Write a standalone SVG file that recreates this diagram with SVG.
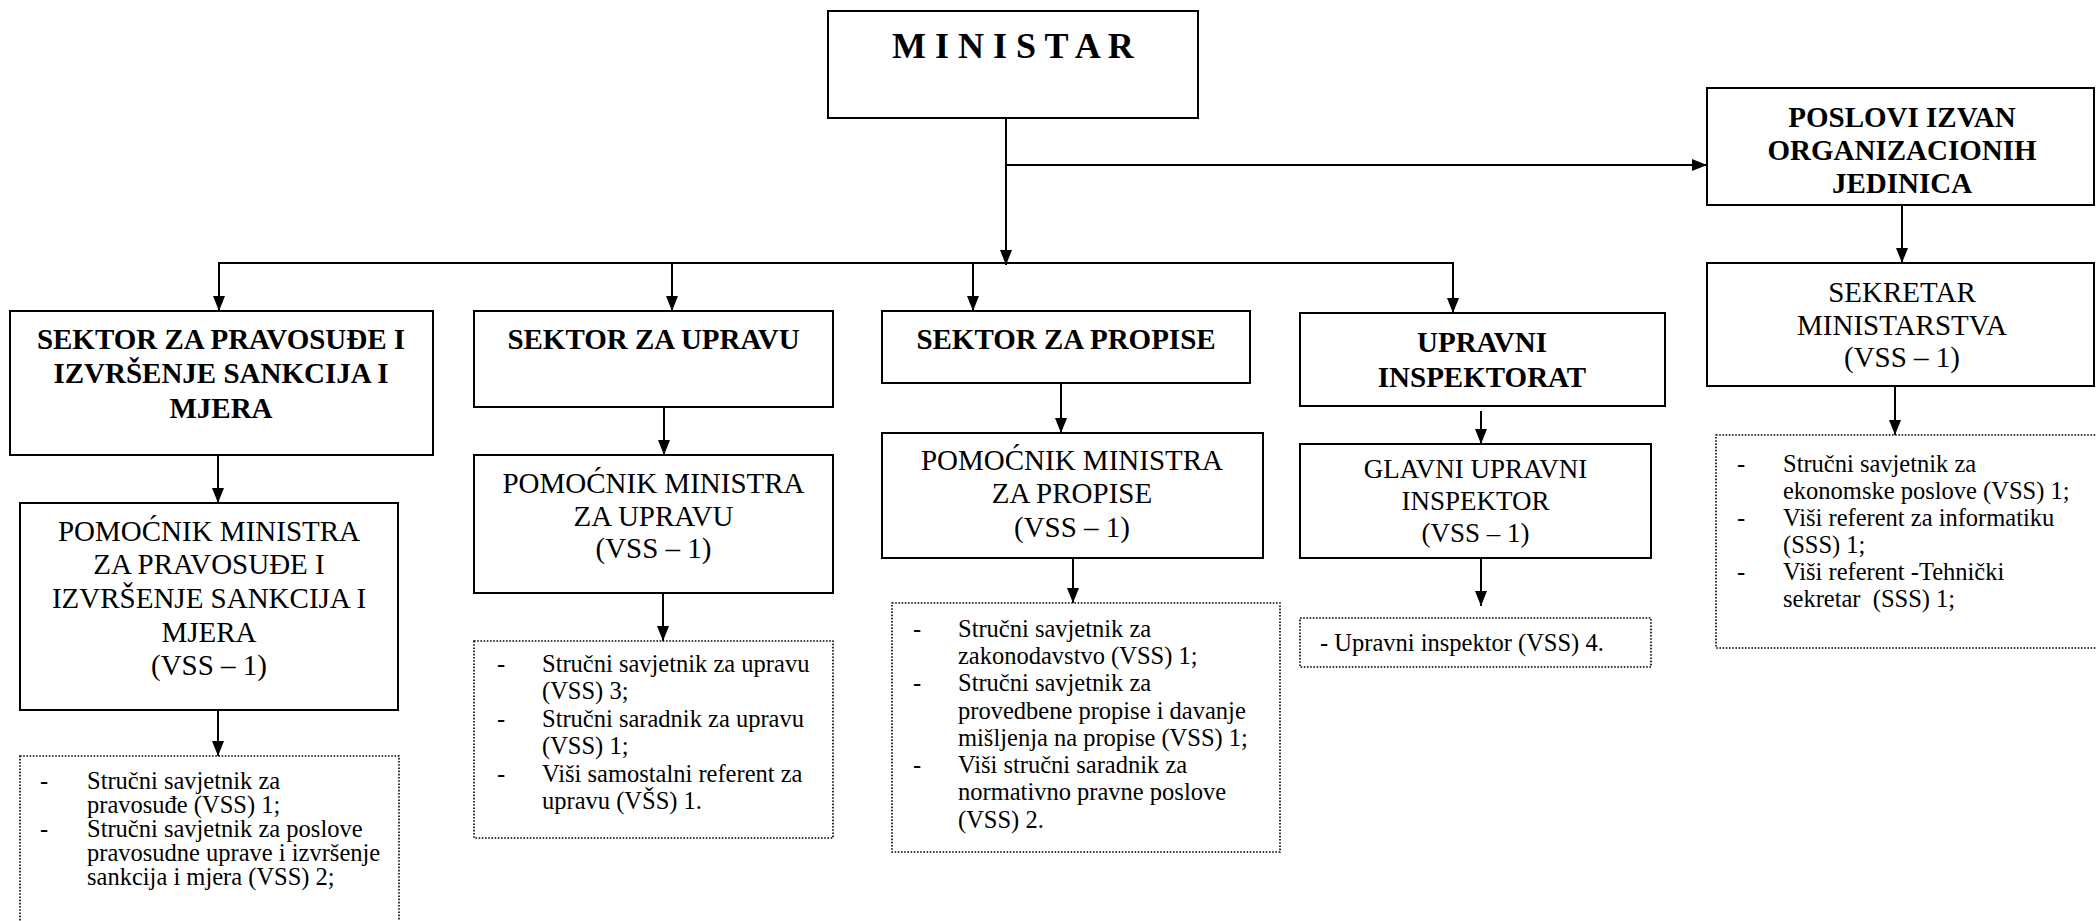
<svg xmlns="http://www.w3.org/2000/svg" width="2096" height="921" viewBox="0 0 2096 921">
<style>
.box{fill:#fff;stroke:#000;stroke-width:2}
.dot{fill:#fff;stroke:#000;stroke-width:1.6;stroke-dasharray:1.6 1.6}
.c{fill:none;stroke:#000;stroke-width:2}
.hb{font-family:"Liberation Serif","Times New Roman",serif;font-weight:bold;font-size:29px;text-anchor:middle;fill:#000}
.hr{font-family:"Liberation Serif","Times New Roman",serif;font-size:29px;text-anchor:middle;fill:#000}
.li{font-family:"Liberation Serif","Times New Roman",serif;font-size:24.5px;fill:#000}
</style>
<defs>
<marker id="ah" markerUnits="userSpaceOnUse" markerWidth="15" markerHeight="12" refX="15" refY="6" orient="auto">
<path d="M0,0 L15,6 L0,12 z" fill="#000"/>
</marker>
</defs>

<g id="connectors">
<line class="c" x1="1006" y1="118" x2="1006" y2="265" marker-end="url(#ah)"/>
<line class="c" x1="1006" y1="165" x2="1707" y2="165" marker-end="url(#ah)"/>
<line class="c" x1="218" y1="263" x2="1454" y2="263"/>
<line class="c" x1="219" y1="263" x2="219" y2="311" marker-end="url(#ah)"/>
<line class="c" x1="672" y1="264" x2="672" y2="311" marker-end="url(#ah)"/>
<line class="c" x1="973" y1="263" x2="973" y2="311" marker-end="url(#ah)"/>
<line class="c" x1="1453" y1="263" x2="1453" y2="313" marker-end="url(#ah)"/>
<line class="c" x1="218" y1="455" x2="218" y2="503" marker-end="url(#ah)"/>
<line class="c" x1="218" y1="710" x2="218" y2="756" marker-end="url(#ah)"/>
<line class="c" x1="664" y1="407" x2="664" y2="455" marker-end="url(#ah)"/>
<line class="c" x1="663" y1="593" x2="663" y2="641" marker-end="url(#ah)"/>
<line class="c" x1="1061" y1="383" x2="1061" y2="433" marker-end="url(#ah)"/>
<line class="c" x1="1073" y1="558" x2="1073" y2="603" marker-end="url(#ah)"/>
<line class="c" x1="1481" y1="411" x2="1481" y2="444" marker-end="url(#ah)"/>
<line class="c" x1="1481" y1="558" x2="1481" y2="606" marker-end="url(#ah)"/>
<line class="c" x1="1902" y1="205" x2="1902" y2="263" marker-end="url(#ah)"/>
<line class="c" x1="1895" y1="386" x2="1895" y2="435" marker-end="url(#ah)"/>
</g>

<g id="ministar">
<rect class="box" x="828" y="11" width="370" height="107"/>
<text class="hb" x="1013" y="58" style="font-size:36px">M I N I S T A R</text>
</g>

<g id="poslovi">
<rect class="box" x="1707" y="88" width="387" height="117"/>
<text class="hb" x="1902" y="127">POSLOVI IZVAN</text>
<text class="hb" x="1902" y="160">ORGANIZACIONIH</text>
<text class="hb" x="1902" y="193">JEDINICA</text>
</g>

<g id="sekretar">
<rect class="box" x="1707" y="263" width="387" height="123"/>
<text class="hr" x="1902" y="302">SEKRETAR</text>
<text class="hr" x="1902" y="335">MINISTARSTVA</text>
<text class="hr" x="1902" y="367">(VSS – 1)</text>
</g>

<g id="sekretar-list">
<rect class="dot" x="1716" y="435" width="384" height="213"/>
<text class="li" x="1737" y="472">-</text>
<text class="li" x="1783" y="472">Stručni savjetnik za</text>
<text class="li" x="1783" y="499">ekonomske poslove (VSS) 1;</text>
<text class="li" x="1737" y="526">-</text>
<text class="li" x="1783" y="526">Viši referent za informatiku</text>
<text class="li" x="1783" y="553">(SSS) 1;</text>
<text class="li" x="1737" y="580">-</text>
<text class="li" x="1783" y="580">Viši referent -Tehnički</text>
<text class="li" x="1783" y="607" xml:space="preserve">sekretar  (SSS) 1;</text>
</g>

<g id="sektor-pravosudje">
<rect class="box" x="10" y="311" width="423" height="144"/>
<text class="hb" x="221" y="349">SEKTOR ZA PRAVOSUĐE I</text>
<text class="hb" x="221" y="383">IZVRŠENJE SANKCIJA I</text>
<text class="hb" x="221" y="418">MJERA</text>
</g>

<g id="pomocnik-pravosudje">
<rect class="box" x="20" y="503" width="378" height="207"/>
<text class="hr" x="209" y="541">POMOĆNIK MINISTRA</text>
<text class="hr" x="209" y="574">ZA PRAVOSUĐE I</text>
<text class="hr" x="209" y="608">IZVRŠENJE SANKCIJA I</text>
<text class="hr" x="209" y="642">MJERA</text>
<text class="hr" x="209" y="675">(VSS – 1)</text>
</g>

<g id="pravosudje-list">
<rect class="dot" x="20" y="756" width="379" height="180"/>
<text class="li" x="40" y="789">-</text>
<text class="li" x="87" y="789">Stručni savjetnik za</text>
<text class="li" x="87" y="813">pravosuđe (VSS) 1;</text>
<text class="li" x="40" y="837">-</text>
<text class="li" x="87" y="837">Stručni savjetnik za poslove</text>
<text class="li" x="87" y="861">pravosudne uprave i izvršenje</text>
<text class="li" x="87" y="885">sankcija i mjera (VSS) 2;</text>
</g>

<g id="sektor-uprava">
<rect class="box" x="474" y="311" width="359" height="96"/>
<text class="hb" x="653.5" y="349">SEKTOR ZA UPRAVU</text>
</g>

<g id="pomocnik-uprava">
<rect class="box" x="474" y="455" width="359" height="138"/>
<text class="hr" x="653.5" y="493">POMOĆNIK MINISTRA</text>
<text class="hr" x="653.5" y="526">ZA UPRAVU</text>
<text class="hr" x="653.5" y="558">(VSS – 1)</text>
</g>

<g id="uprava-list">
<rect class="dot" x="474" y="641" width="359" height="197"/>
<text class="li" x="497" y="672">-</text>
<text class="li" x="542" y="672">Stručni savjetnik za upravu</text>
<text class="li" x="542" y="699">(VSS) 3;</text>
<text class="li" x="497" y="727">-</text>
<text class="li" x="542" y="727">Stručni saradnik za upravu</text>
<text class="li" x="542" y="754">(VSS) 1;</text>
<text class="li" x="497" y="782">-</text>
<text class="li" x="542" y="782">Viši samostalni referent za</text>
<text class="li" x="542" y="809">upravu (VŠS) 1.</text>
</g>

<g id="sektor-propisi">
<rect class="box" x="882" y="311" width="368" height="72"/>
<text class="hb" x="1066" y="349">SEKTOR ZA PROPISE</text>
</g>

<g id="pomocnik-propisi">
<rect class="box" x="882" y="433" width="381" height="125"/>
<text class="hr" x="1072" y="470">POMOĆNIK MINISTRA</text>
<text class="hr" x="1072" y="503">ZA PROPISE</text>
<text class="hr" x="1072" y="537">(VSS – 1)</text>
</g>

<g id="propisi-list">
<rect class="dot" x="892" y="603" width="388" height="249"/>
<text class="li" x="913" y="637">-</text>
<text class="li" x="958" y="637">Stručni savjetnik za</text>
<text class="li" x="958" y="664">zakonodavstvo (VSS) 1;</text>
<text class="li" x="913" y="691">-</text>
<text class="li" x="958" y="691">Stručni savjetnik za</text>
<text class="li" x="958" y="719">provedbene propise i davanje</text>
<text class="li" x="958" y="746">mišljenja na propise (VSS) 1;</text>
<text class="li" x="913" y="773">-</text>
<text class="li" x="958" y="773">Viši stručni saradnik za</text>
<text class="li" x="958" y="800">normativno pravne poslove</text>
<text class="li" x="958" y="828">(VSS) 2.</text>
</g>

<g id="upravni-inspektorat">
<rect class="box" x="1300" y="313" width="365" height="93"/>
<text class="hb" x="1482" y="352">UPRAVNI</text>
<text class="hb" x="1482" y="387">INSPEKTORAT</text>
</g>

<g id="glavni-inspektor">
<rect class="box" x="1300" y="444" width="351" height="114"/>
<text class="hr" x="1475.5" y="478" style="font-size:27px">GLAVNI UPRAVNI</text>
<text class="hr" x="1475.5" y="510" style="font-size:27px">INSPEKTOR</text>
<text class="hr" x="1475.5" y="542" style="font-size:27px">(VSS – 1)</text>
</g>

<g id="inspektor-list">
<rect class="dot" x="1300" y="618" width="351" height="49"/>
<text class="li" x="1320" y="651">- Upravni inspektor (VSS) 4.</text>
</g>
</svg>
